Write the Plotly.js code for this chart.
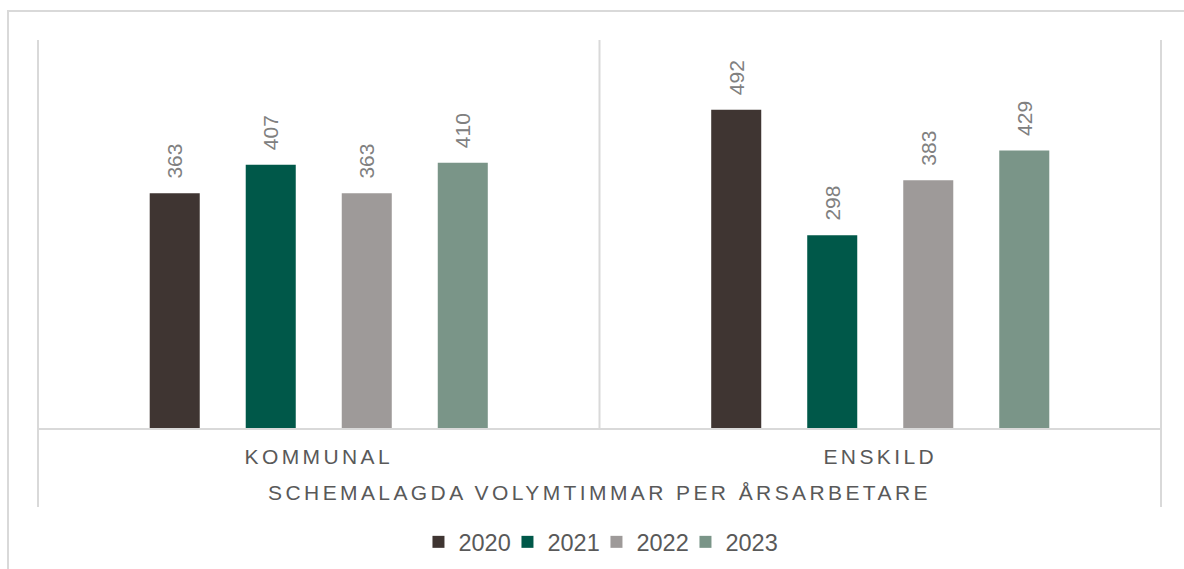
<!DOCTYPE html>
<html>
<head>
<meta charset="utf-8">
<script src="https://cdn.plot.ly/plotly-3.0.1.min.js"></script>
<style>
  html, body { margin: 0; padding: 0; background: #ffffff; }
  #chart { width: 1184px; height: 569px; }
  .xtick text, .g-xtitle text { letter-spacing: 3.4px; }
  .legend .scrollbox { clip-path: none !important; }
</style>
</head>
<body>
<div id="chart"></div>
<script>
const categories = ["KOMMUNAL", "ENSKILD"];
const years = ["2020", "2021", "2022", "2023"];
const values2020 = [363, 492];
const values2021 = [407, 298];
const values2022 = [363, 383];
const values2023 = [410, 429];
const axisTitle = "SCHEMALAGDA VOLYMTIMMAR PER ÅRSARBETARE";
const colors = ["#3f3532", "#005849", "#9e9a99", "#7a9588"];

const series = [values2020, values2021, values2022, values2023];
const FONT = "Liberation Sans, Arial, sans-serif";

const traces = series.map((vals, i) => ({
  type: "bar",
  name: years[i],
  x: categories,
  y: vals,
  marker: { color: colors[i], line: { width: 0 } },
  texttemplate: "\u00a0\u00a0%{y}",
  textposition: "outside",
  textangle: -90,
  textfont: { family: FONT, size: 21, color: "#808080" },
  cliponaxis: false,
  hoverinfo: "none"
}));

const lineColor = "#d9d9d9";
const layout = {
  width: 1184,
  height: 569,
  margin: { l: 38, r: 23, t: 40, b: 141, pad: 0, autoexpand: false },
  paper_bgcolor: "#ffffff",
  plot_bgcolor: "#ffffff",
  barmode: "group",
  bargap: 0.316,
  bargroupgap: 0.479,
  showlegend: true,
  legend: {
    orientation: "h",
    x: 0.4973, xanchor: "center",
    y: -0.294, yanchor: "middle",
    entrywidth: 44,
    font: { family: FONT, size: 23.5, color: "#595959" },
    itemclick: false, itemdoubleclick: false
  },
  xaxis: {
    type: "category",
    showgrid: false,
    zeroline: false,
    showline: true,
    linecolor: lineColor,
    linewidth: 2,
    ticks: "",
    ticklabelstandoff: 9,
    tickfont: { family: FONT, size: 21, color: "#595959" },
    title: {
      text: axisTitle,
      font: { family: FONT, size: 21, color: "#595959" },
      standoff: 18
    }
  },
  yaxis: {
    range: [0, 600],
    showgrid: false,
    zeroline: false,
    showline: false,
    showticklabels: false,
    ticks: ""
  },
  shapes: [
    { type: "line", xref: "paper", yref: "paper", x0: 0, x1: 0, y0: 1, y1: -0.2036, line: { color: lineColor, width: 2 } },
    { type: "line", xref: "paper", yref: "paper", x0: 0.5, x1: 0.5, y0: 1, y1: 0, line: { color: lineColor, width: 2 } },
    { type: "line", xref: "paper", yref: "paper", x0: 1, x1: 1, y0: 1, y1: -0.2036, line: { color: lineColor, width: 2 } },
    { type: "rect", xref: "paper", yref: "paper", x0: -0.0267, x1: 1.05, y0: -0.4, y1: 1.0747, line: { color: lineColor, width: 2 }, fillcolor: "rgba(0,0,0,0)" }
  ]
};

Plotly.newPlot("chart", traces, layout, { displayModeBar: false, staticPlot: true });
</script>
</body>
</html>
